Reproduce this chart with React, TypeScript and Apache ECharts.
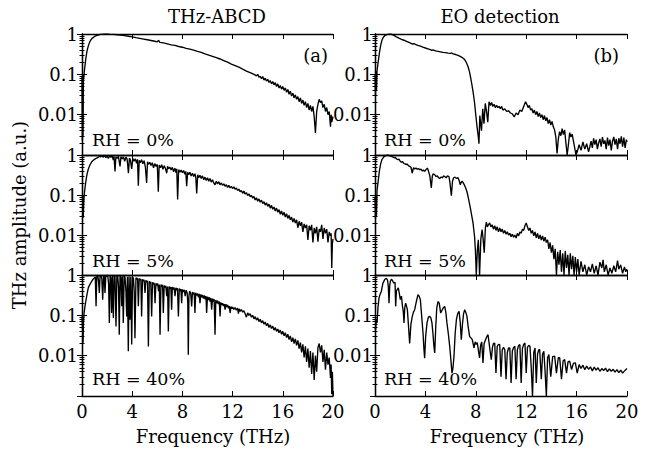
import React, { useEffect, useRef } from 'react';
import * as echarts from 'echarts';

const FONT = '"DejaVu Serif", serif';
const titles = ['THz-ABCD', 'EO detection'];
const panelTags = ['(a)', '(b)'];
const rhLabels = ['RH = 0%', 'RH = 5%', 'RH = 40%'];
const yTickLabels = ['1', '0.1', '0.01'];
const xName = 'Frequency (THz)';
const yName = 'THz amplitude (a.u.)';

// THz-ABCD, RH = 0%
const abcd0 = [
  [0,0.09],[0.03,0.0022],[0.06,0.1],[0.08,0.003],[0.11,0.07],[0.15,0.09],[0.2,0.13],[0.3,0.24],[0.4,0.38],[0.5,0.5],[0.6,0.62],[0.7,0.71],[0.8,0.78],[1.0,0.87],[1.2,0.93],[1.4,0.97],[1.6,0.99],[1.8,1.0],[2.0,1.0],[2.2,0.99],[2.5,0.98],[2.8,0.96],[3.1,0.94],[3.4,0.91],[3.7,0.88],[4.0,0.85],[4.3,0.81],[4.6,0.78],[4.9,0.75],[5.2,0.72],[5.5,0.69],[5.8,0.66],[6.0,0.64],[6.1,0.7],[6.2,0.62],[6.5,0.6],[6.8,0.57],[7.1,0.54],[7.4,0.52],[7.7,0.49],[8.0,0.47],[8.3,0.44],[8.6,0.42],[8.9,0.4],[9.2,0.37],[9.5,0.35],[9.8,0.32],[10.1,0.3],[10.4,0.28],[10.7,0.26],[11.0,0.24],[11.3,0.22],[11.6,0.2],[11.9,0.18],[12.2,0.165],[12.5,0.15],[12.8,0.135],[13.1,0.12],[13.4,0.11],[13.7,0.1],[13.9,0.092],[14.0,0.1],[14.1,0.085],[14.2,0.09],
  [14.3,0.078],[14.4,0.088],[14.5,0.072],[14.6,0.08],[14.7,0.068],[14.8,0.075],[14.9,0.063],[15.0,0.07],[15.1,0.058],[15.2,0.066],[15.3,0.055],[15.4,0.062],[15.5,0.05],[15.6,0.058],[15.7,0.046],[15.8,0.053],[15.9,0.043],[16.0,0.05],[16.1,0.04],[16.2,0.046],[16.3,0.036],[16.4,0.042],[16.5,0.032],[16.6,0.038],[16.7,0.029],[16.8,0.034],[16.9,0.026],[17.0,0.031],[17.1,0.024],[17.2,0.028],[17.3,0.021],[17.4,0.026],[17.5,0.019],[17.6,0.023],[17.7,0.017],[17.8,0.021],[17.9,0.015],[18.0,0.019],[18.1,0.013],[18.2,0.017],[18.3,0.012],[18.4,0.016],[18.5,0.009],[18.6,0.0035],[18.7,0.012],[18.8,0.018],[18.9,0.024],[19.0,0.02],[19.1,0.022],[19.2,0.015],[19.3,0.018],[19.4,0.012],[19.5,0.015],[19.6,0.01],[19.7,0.012],[19.8,0.005],[19.85,0.01],[19.9,0.0065],[20,0.009]
];

// EO detection, RH = 0%
const eo0 = [
  [0,0.1],[0.04,0.03],[0.08,0.12],[0.12,0.04],[0.16,0.12],[0.25,0.2],[0.35,0.34],[0.45,0.52],[0.55,0.7],[0.65,0.82],[0.8,0.93],[1.0,0.98],[1.15,1.0],[1.3,0.99],[1.5,0.92],[1.7,0.85],[1.9,0.79],[2.1,0.74],[2.3,0.7],[2.5,0.66],[2.7,0.62],[2.9,0.58],[3.0,0.56],[3.1,0.58],[3.2,0.55],[3.4,0.52],[3.6,0.5],[3.8,0.47],[4.0,0.45],[4.2,0.43],[4.4,0.41],[4.5,0.39],[4.6,0.405],[4.8,0.38],[5.0,0.37],[5.2,0.36],[5.4,0.35],[5.6,0.345],[5.8,0.335],[6.0,0.33],[6.1,0.34],[6.2,0.32],[6.4,0.31],[6.6,0.295],[6.8,0.275],[7.0,0.25],[7.1,0.235],[7.2,0.21],[7.3,0.18],[7.4,0.15],[7.5,0.115],[7.6,0.08],[7.7,0.053],[7.8,0.034],[7.9,0.02],[8.0,0.0097],[8.1,0.005],[8.2,0.0028],[8.25,0.0019],[8.32,0.0095],[8.45,0.004],[8.55,0.014],[8.65,0.006],[8.75,0.019],[8.85,0.012],[8.95,0.0065],[9.05,0.021],[9.15,0.017],[9.25,0.02],[9.35,0.016],[9.45,0.018],[9.55,0.015],[9.65,0.017],[9.75,0.015],[9.85,0.016],[9.95,0.014],[10.05,0.016],[10.15,0.013],[10.3,0.014],[10.45,0.012],[10.6,0.0125],[10.75,0.011],[10.9,0.0105],[11.05,0.0088],[11.2,0.011],[11.35,0.01],[11.5,0.013],[11.65,0.012],[11.8,0.016],[11.95,0.021],[12.05,0.018],[12.15,0.015],[12.25,0.017],[12.35,0.013],[12.45,0.014],[12.55,0.011],[12.65,0.013],[12.75,0.01],[12.85,0.012],[12.95,0.009],[13.05,0.011],[13.15,0.0085],[13.25,0.01],[13.35,0.0075],[13.45,0.0095],[13.55,0.007],[13.65,0.0085],[13.75,0.006],[13.85,0.0075],[13.95,0.0055],[14.05,0.0068],[14.15,0.005],[14.25,0.0042],[14.35,0.0028],[14.45,0.0011],[14.55,0.0025],[14.65,0.0038],[14.75,0.003],[14.85,0.0045],[14.95,0.0032],[15.05,0.0042],[15.15,0.002],[15.25,0.001],[15.35,0.0018],[15.45,0.0036],[15.55,0.0028],[15.65,0.0033],[15.75,0.0022],[15.85,0.0015],[15.95,0.001],[16.05,0.0012],[16.2,0.0018],[16.35,0.0013],[16.5,0.0021],[16.65,0.0014],[16.8,0.0019],[16.95,0.0012],[17.05,0.0016],[17.15,0.0022],[17.25,0.0015],[17.35,0.0026],[17.45,0.0018],[17.55,0.0024],[17.65,0.0014],[17.75,0.002],[17.85,0.0025],[17.95,0.0016],[18.05,0.0028],[18.15,0.0019],[18.25,0.0023],[18.35,0.0014],[18.45,0.0027],[18.55,0.0017],[18.65,0.0024],[18.75,0.0013],[18.85,0.0022],[18.95,0.0028],[19.05,0.0018],[19.15,0.0025],[19.25,0.0014],[19.35,0.0026],[19.45,0.0019],[19.55,0.0029],[19.65,0.0016],[19.75,0.0027],[19.85,0.0015],[19.95,0.0024],[20,0.0021]
];

// THz-ABCD, RH = 5%
const abcd5 = [
  [0,0.09],[0.05,0.095],[0.1,0.027],[0.15,0.08],[0.2,0.12],[0.27,0.18],[0.35,0.27],[0.42,0.35],[0.5,0.44],[0.64,0.57],[0.8,0.69],[0.9,0.74],[1.05,0.8],[1.17,0.84],[1.3,0.88],[1.43,0.93],
  [1.5,0.9],[1.6,0.96],[1.7,0.88],[1.8,0.97],[1.9,0.86],[2.0,0.95],[2.1,0.82],[2.2,0.96],[2.3,0.88],[2.4,0.94],[2.5,0.75],[2.55,0.93],[2.63,0.39],[2.7,0.9],[2.8,0.82],[2.9,0.92],[3.03,0.52],[3.1,0.9],[3.2,0.8],[3.3,0.9],[3.4,0.7],[3.5,0.88],[3.6,0.78],[3.7,0.35],[3.78,0.84],[3.86,0.75],[3.96,0.45],[4.05,0.82],[4.15,0.7],[4.25,0.8],[4.35,0.62],[4.42,0.78],[4.49,0.17],[4.56,0.74],[4.65,0.64],[4.75,0.76],[4.85,0.6],[4.95,0.72],[5.05,0.5],[5.15,0.2],[5.22,0.68],[5.3,0.58],[5.4,0.66],[5.5,0.55],[5.6,0.64],[5.7,0.48],[5.8,0.61],[5.9,0.52],[6.0,0.58],[6.08,0.12],[6.15,0.56],[6.25,0.48],[6.35,0.57],[6.45,0.44],[6.55,0.54],[6.65,0.46],[6.75,0.35],[6.82,0.52],[6.9,0.45],[7.0,0.5],[7.1,0.42],[7.2,0.49],[7.3,0.38],[7.4,0.47],[7.5,0.36],[7.55,0.45],[7.62,0.077],[7.7,0.43],[7.8,0.37],[7.9,0.42],[8.0,0.36],[8.1,0.41],[8.2,0.33],[8.27,0.39],[8.34,0.165],[8.42,0.37],[8.5,0.32],[8.6,0.37],[8.7,0.3],[8.8,0.35],[8.9,0.29],[9.0,0.34],[9.07,0.27],[9.14,0.11],[9.22,0.32],[9.3,0.27],[9.4,0.31],[9.5,0.26],[9.6,0.3],[9.7,0.24],[9.8,0.28],[9.9,0.23],[10.0,0.27],[10.1,0.22],[10.2,0.26],[10.3,0.21],[10.4,0.24],[10.5,0.2],[10.6,0.18],[10.7,0.22],[10.8,0.19],[10.9,0.215],[11.0,0.18],[11.1,0.2],[11.2,0.175],[11.3,0.19],[11.4,0.165],[11.5,0.18],[11.6,0.155],[11.7,0.175],[11.8,0.15],[11.9,0.165],[12.0,0.145],[12.1,0.16],[12.2,0.14],[12.3,0.15],[12.4,0.13],[12.5,0.14],[12.6,0.12],[12.7,0.13],[12.8,0.11],[12.9,0.125],[13.0,0.105],[13.1,0.115],[13.2,0.097],[13.3,0.107],[13.4,0.09],[13.5,0.099],[13.6,0.083],[13.7,0.092],[13.8,0.075],[13.9,0.085],[14.0,0.07],[14.1,0.08],[14.2,0.066],[14.3,0.074],[14.4,0.061],[14.5,0.068],[14.6,0.056],[14.7,0.064],[14.8,0.052],[14.9,0.059],[15.0,0.047],[15.1,0.055],[15.2,0.044],[15.3,0.05],[15.4,0.04],[15.5,0.047],[15.6,0.037],[15.7,0.043],[15.8,0.033],[15.9,0.04],[16.0,0.031],[16.1,0.037],[16.2,0.028],[16.3,0.034],[16.4,0.026],[16.5,0.031],[16.6,0.024],[16.7,0.028],[16.8,0.021],[16.9,0.026],[17.0,0.02],[17.1,0.024],[17.2,0.015],[17.3,0.022],[17.4,0.017],[17.5,0.021],[17.6,0.012],[17.7,0.019],[17.8,0.015],[17.9,0.018],[18.0,0.0075],[18.1,0.017],[18.2,0.013],[18.3,0.018],[18.4,0.0065],[18.5,0.015],[18.6,0.011],[18.7,0.016],[18.8,0.0068],[18.9,0.014],[19.0,0.012],[19.1,0.018],[19.2,0.008],[19.3,0.015],[19.4,0.011],[19.5,0.014],[19.6,0.0065],[19.7,0.012],[19.8,0.0095],[19.85,0.011],[19.9,0.0015],[19.95,0.006],[20,0.008]
];

// EO detection, RH = 5%
const eo5 = [
  [0,0.09],[0.04,0.025],[0.08,0.1],[0.12,0.03],[0.16,0.13],[0.25,0.22],[0.35,0.4],[0.45,0.6],[0.55,0.77],[0.7,0.9],[0.85,0.97],[1.0,1.0],[1.16,0.97],[1.3,0.92],[1.43,0.89],[1.55,0.84],[1.62,0.87],[1.7,0.8],[1.83,0.76],[1.9,0.79],[2.0,0.7],[2.09,0.66],[2.17,0.69],[2.3,0.61],[2.4,0.6],[2.49,0.57],[2.55,0.6],[2.65,0.54],[2.75,0.52],[2.85,0.5],[2.96,0.35],[3.05,0.48],[3.15,0.45],[3.25,0.47],[3.35,0.44],[3.45,0.46],[3.54,0.43],[3.65,0.44],[3.75,0.4],[3.85,0.42],[3.94,0.39],[4.05,0.43],[4.15,0.47],[4.22,0.42],[4.35,0.3],[4.47,0.15],[4.55,0.3],[4.62,0.34],[4.74,0.32],[4.85,0.29],[4.95,0.3],[5.05,0.27],[5.13,0.26],[5.25,0.28],[5.35,0.27],[5.45,0.3],[5.53,0.29],[5.65,0.27],[5.75,0.3],[5.87,0.29],[5.95,0.2],[6.06,0.096],[6.15,0.22],[6.24,0.27],[6.35,0.28],[6.45,0.26],[6.59,0.27],[6.68,0.23],[6.77,0.18],[6.85,0.21],[6.93,0.22],[7.05,0.19],[7.2,0.15],[7.3,0.12],[7.38,0.093],[7.48,0.065],[7.57,0.047],[7.68,0.03],[7.78,0.02],[7.9,0.0093],[7.97,0.004],[8.04,0.001],[8.12,0.004],[8.2,0.0076],[8.25,0.003],[8.3,0.001],[8.4,0.008],[8.5,0.0137],[8.58,0.008],[8.67,0.0036],[8.76,0.015],[8.84,0.021],[8.92,0.016],[9.0,0.018],[9.1,0.02],[9.2,0.016],[9.3,0.018],[9.4,0.014],[9.5,0.017],[9.6,0.013],[9.7,0.016],[9.8,0.012],[9.9,0.015],[10.0,0.012],[10.1,0.014],[10.2,0.011],[10.3,0.013],[10.4,0.0105],[10.5,0.012],[10.6,0.01],[10.7,0.011],[10.8,0.009],[10.9,0.0105],[11.0,0.0088],[11.1,0.01],[11.2,0.0084],[11.3,0.011],[11.4,0.0095],[11.5,0.012],[11.6,0.011],[11.7,0.014],[11.8,0.013],[11.9,0.017],[12.0,0.02],[12.1,0.016],[12.2,0.013],[12.3,0.015],[12.4,0.011],[12.5,0.013],[12.6,0.0095],[12.7,0.012],[12.8,0.0085],[12.9,0.011],[13.0,0.008],[13.1,0.01],[13.2,0.0075],[13.3,0.0095],[13.4,0.007],[13.5,0.0088],[13.6,0.0065],[13.7,0.0076],[13.8,0.0045],[13.9,0.0065],[14.0,0.0036],[14.1,0.0055],[14.2,0.0025],[14.3,0.0045],[14.4,0.001],[14.5,0.0038],[14.6,0.0018],[14.7,0.0042],[14.8,0.0012],[14.9,0.0035],[15.0,0.001],[15.1,0.004],[15.2,0.0015],[15.3,0.0032],[15.4,0.001],[15.5,0.0035],[15.6,0.0014],[15.7,0.003],[15.8,0.001],[15.9,0.0028],[16.0,0.0012],[16.1,0.0025],[16.2,0.001],[16.35,0.0022],[16.5,0.0012],[16.65,0.0018],[16.8,0.001],[16.95,0.0016],[17.1,0.0012],[17.25,0.0019],[17.4,0.0011],[17.55,0.0017],[17.7,0.001],[17.85,0.0021],[18.0,0.0015],[18.1,0.0024],[18.2,0.0012],[18.35,0.0018],[18.5,0.001],[18.65,0.0015],[18.8,0.0011],[18.95,0.0017],[19.1,0.0012],[19.25,0.0023],[19.35,0.0014],[19.5,0.0018],[19.65,0.0011],[19.8,0.0016],[19.9,0.0012],[20,0.0014]
];

// THz-ABCD, RH = 40%
const abcd40 = [
  [0,0.094],[0.04,0.05],[0.08,0.021],[0.12,0.07],[0.16,0.11],[0.24,0.17],[0.32,0.24],[0.4,0.33],[0.5,0.48],[0.6,0.56],[0.69,0.63],[0.8,0.72],[0.9,0.8],[1.0,0.86],[1.06,0.9],[1.12,0.167],[1.18,0.92],[1.26,0.95],[1.32,0.7],[1.38,0.36],[1.44,0.94],[1.52,0.97],[1.58,0.8],[1.65,0.245],[1.72,0.96],[1.78,0.9],[1.83,0.36],[1.9,0.98],[1.98,0.93],[2.05,0.99],[2.12,0.6],[2.18,0.065],[2.24,0.95],[2.3,0.85],[2.36,0.114],[2.42,0.97],[2.5,0.086],[2.56,0.96],[2.63,0.9],[2.71,0.053],[2.78,0.98],[2.85,0.92],[2.91,0.5],[2.97,0.033],[3.03,0.95],[3.1,0.88],[3.16,0.167],[3.22,0.93],[3.29,0.065],[3.36,0.97],[3.43,0.85],[3.5,0.4],[3.56,0.094],[3.62,0.9],[3.69,0.0128],[3.75,0.92],[3.82,0.078],[3.89,0.9],[3.96,0.019],[4.03,0.88],[4.1,0.82],[4.16,0.4],[4.22,0.027],[4.3,0.86],[4.37,0.78],[4.43,0.84],[4.49,0.167],[4.56,0.82],[4.63,0.74],[4.69,0.8],[4.75,0.094],[4.82,0.78],[4.89,0.7],[4.95,0.76],[5.02,0.36],[5.09,0.74],[5.16,0.66],[5.22,0.72],[5.29,0.017],[5.36,0.7],[5.42,0.62],[5.48,0.68],[5.55,0.094],[5.62,0.66],[5.69,0.58],[5.75,0.64],[5.82,0.2],[5.89,0.62],[5.96,0.55],[6.03,0.61],[6.1,0.4],[6.16,0.58],[6.22,0.033],[6.29,0.58],[6.36,0.5],[6.42,0.57],[6.48,0.114],[6.55,0.55],[6.62,0.48],[6.68,0.54],[6.75,0.3],[6.82,0.52],[6.88,0.04],[6.95,0.52],[7.02,0.46],[7.08,0.5],[7.14,0.138],[7.2,0.5],[7.28,0.44],[7.34,0.49],[7.41,0.3],[7.48,0.48],[7.55,0.42],[7.61,0.47],[7.68,0.094],[7.75,0.46],[7.82,0.4],[7.88,0.45],[7.94,0.2],[8.0,0.44],[8.08,0.38],[8.15,0.43],[8.22,0.3],[8.3,0.42],[8.38,0.36],[8.43,0.2],[8.47,0.0106],[8.52,0.3],[8.58,0.4],[8.66,0.35],[8.74,0.167],[8.8,0.38],[8.88,0.33],[8.94,0.37],[9.0,0.114],[9.06,0.36],[9.14,0.31],[9.2,0.35],[9.28,0.28],[9.34,0.34],[9.4,0.2],[9.47,0.33],[9.54,0.28],[9.6,0.32],[9.68,0.26],[9.75,0.31],[9.82,0.25],[9.88,0.3],[9.93,0.114],[10.0,0.29],[10.07,0.24],[10.14,0.28],[10.2,0.22],[10.27,0.27],[10.33,0.138],[10.4,0.26],[10.47,0.22],[10.53,0.25],[10.6,0.033],[10.66,0.24],[10.73,0.2],[10.8,0.23],[10.87,0.19],[10.94,0.22],[11.0,0.094],[11.06,0.21],[11.13,0.18],[11.2,0.2],[11.27,0.17],[11.34,0.19],[11.4,0.138],[11.47,0.19],[11.54,0.16],[11.6,0.18],[11.67,0.15],[11.74,0.17],[11.8,0.114],[11.87,0.165],[11.94,0.145],[12.0,0.16],[12.1,0.14],[12.2,0.155],[12.3,0.135],[12.4,0.15],[12.46,0.11],[12.52,0.145],[12.6,0.125],[12.7,0.14],[12.8,0.12],[12.9,0.13],[13.0,0.11],[13.1,0.09],[13.2,0.115],[13.3,0.1],[13.4,0.11],[13.5,0.09],[13.6,0.1],[13.7,0.082],[13.8,0.093],[13.9,0.076],[14.0,0.087],[14.1,0.07],[14.2,0.08],[14.3,0.065],[14.4,0.074],[14.5,0.06],[14.6,0.068],[14.7,0.055],[14.8,0.063],[14.9,0.05],[15.0,0.058],[15.1,0.047],[15.2,0.054],[15.3,0.043],[15.4,0.05],[15.5,0.04],[15.6,0.046],[15.7,0.037],[15.8,0.043],[15.9,0.034],[16.0,0.04],[16.1,0.031],[16.2,0.037],[16.3,0.028],[16.4,0.034],[16.5,0.025],[16.6,0.031],[16.7,0.022],[16.8,0.028],[16.9,0.02],[17.0,0.026],[17.1,0.018],[17.2,0.024],[17.3,0.015],[17.4,0.021],[17.5,0.012],[17.6,0.019],[17.7,0.009],[17.8,0.017],[17.9,0.007],[18.0,0.015],[18.1,0.005],[18.2,0.013],[18.3,0.0035],[18.4,0.012],[18.5,0.0025],[18.6,0.01],[18.7,0.004],[18.8,0.016],[18.9,0.02],[19.0,0.012],[19.1,0.018],[19.2,0.007],[19.3,0.014],[19.4,0.0045],[19.5,0.012],[19.6,0.006],[19.7,0.009],[19.8,0.0028],[19.85,0.006],[19.9,0.0011],[19.95,0.004],[20,0.001]
];

// EO detection, RH = 40%
const eo40 = [
  [0,0.05],[0.05,0.044],[0.1,0.078],[0.16,0.065],[0.24,0.16],[0.32,0.27],[0.4,0.33],[0.5,0.39],[0.63,0.63],[0.77,0.77],[0.9,0.83],[1.0,0.74],[1.06,0.5],[1.11,0.2],[1.17,0.55],[1.22,0.7],[1.3,0.78],[1.38,0.74],[1.48,0.63],[1.59,0.66],[1.64,0.167],[1.7,0.4],[1.75,0.43],[1.85,0.48],[1.93,0.35],[2.01,0.245],[2.1,0.3],[2.17,0.18],[2.25,0.12],[2.3,0.065],[2.36,0.15],[2.43,0.2],[2.5,0.17],[2.57,0.138],[2.65,0.06],[2.75,0.02],[2.85,0.06],[2.96,0.094],[3.05,0.12],[3.15,0.138],[3.28,0.22],[3.41,0.325],[3.5,0.3],[3.6,0.245],[3.7,0.1],[3.81,0.037],[3.88,0.015],[3.94,0.0087],[4.02,0.03],[4.13,0.065],[4.24,0.09],[4.34,0.094],[4.44,0.085],[4.52,0.065],[4.6,0.035],[4.67,0.018],[4.74,0.0117],[4.82,0.05],[4.9,0.15],[5.0,0.22],[5.1,0.2],[5.21,0.114],[5.3,0.13],[5.4,0.15],[5.53,0.167],[5.62,0.12],[5.71,0.065],[5.82,0.035],[5.93,0.017],[6.02,0.008],[6.11,0.0037],[6.19,0.005],[6.27,0.0097],[6.36,0.035],[6.46,0.078],[6.56,0.11],[6.67,0.126],[6.76,0.07],[6.85,0.025],[6.94,0.06],[7.03,0.11],[7.12,0.138],[7.2,0.12],[7.3,0.094],[7.4,0.05],[7.51,0.03],[7.6,0.028],[7.72,0.025],[7.86,0.0155],[7.95,0.022],[8.04,0.019],[8.12,0.021],[8.2,0.014],[8.3,0.0088],[8.38,0.018],[8.47,0.022],[8.57,0.0066],[8.66,0.02],[8.78,0.025],[8.88,0.03],[8.97,0.033],[9.06,0.02],[9.15,0.012],[9.23,0.008],[9.32,0.016],[9.4,0.02],[9.5,0.0206],[9.6,0.0037],[9.7,0.017],[9.8,0.019],[9.9,0.0187],[10.0,0.003],[10.1,0.014],[10.2,0.016],[10.3,0.014],[10.4,0.0026],[10.5,0.012],[10.6,0.0155],[10.7,0.0155],[10.8,0.0021],[10.9,0.013],[11.0,0.016],[11.1,0.017],[11.2,0.0026],[11.3,0.014],[11.4,0.018],[11.5,0.0187],[11.6,0.0021],[11.7,0.015],[11.8,0.019],[11.9,0.0206],[12.0,0.0037],[12.1,0.016],[12.2,0.018],[12.3,0.017],[12.4,0.005],[12.5,0.001],[12.6,0.012],[12.7,0.0155],[12.8,0.0021],[12.9,0.011],[13.0,0.014],[13.07,0.014],[13.2,0.0026],[13.3,0.011],[13.4,0.0128],[13.5,0.004],[13.6,0.001],[13.7,0.009],[13.8,0.0106],[13.95,0.003],[14.1,0.0095],[14.26,0.0097],[14.4,0.0037],[14.55,0.009],[14.66,0.0088],[14.8,0.0026],[14.93,0.0075],[15.05,0.008],[15.2,0.0037],[15.32,0.007],[15.45,0.0073],[15.6,0.0045],[15.75,0.0065],[15.9,0.0066],[16.05,0.0037],[16.2,0.006],[16.35,0.0048],[16.5,0.0058],[16.65,0.0045],[16.8,0.0055],[16.95,0.0046],[17.1,0.0053],[17.25,0.0042],[17.4,0.0052],[17.55,0.0044],[17.7,0.005],[17.85,0.0041],[18.0,0.0048],[18.15,0.0043],[18.3,0.0049],[18.45,0.004],[18.6,0.0047],[18.75,0.0041],[18.9,0.0046],[19.05,0.0039],[19.2,0.0045],[19.35,0.0038],[19.5,0.0044],[19.65,0.0037],[19.8,0.0042],[19.9,0.0045],[20,0.0048]
];

export default function App() {
  const ref = useRef<HTMLDivElement>(null);
  useEffect(() => {
    const chart = echarts.init(ref.current!, null, { renderer: 'svg' });
    const cols = [{ left: 82, width: 251, cx: 213 }, { left: 375, width: 252, cx: 507 }];
    const rows = [{ top: 34, height: 121 }, { top: 155, height: 120 }, { top: 275, height: 121 }];
    const dataGrid = [[abcd0, eo0], [abcd5, eo5], [abcd40, eo40]];
    const grid: any[] = [], xAxis: any[] = [], yAxis: any[] = [], series: any[] = [];
    const lineStyle = { color: '#000', width: 1.3 };
    const tick = { inside: true, length: 5, lineStyle: { color: '#000', width: 1 } };
    const minorTick = { show: true, splitNumber: 9, length: 2.5, lineStyle: { color: '#000', width: 1 } };
    const labelStyle = { color: '#000', fontFamily: FONT, fontSize: 18 };
    rows.forEach((r, ri) => cols.forEach((c, ci) => {
      const gi = grid.length;
      grid.push({ left: c.left, top: r.top, width: c.width, height: r.height });
      const base = { gridIndex: gi, type: 'value', min: 0, max: 20, interval: 4, splitLine: { show: false }, axisLine: { show: true, onZero: false, lineStyle }, axisTick: tick };
      xAxis.push({ ...base, position: 'bottom', axisLabel: { show: ri === 2, margin: 6, ...labelStyle } });
      xAxis.push({ ...base, position: 'top', axisLabel: { show: false } });
      const ybase = { gridIndex: gi, type: 'log', logBase: 10, min: 0.001, max: 1, splitLine: { show: false }, minorSplitLine: { show: false }, axisLine: { show: true, lineStyle }, axisTick: tick, minorTick };
      yAxis.push({
        ...ybase, position: 'left',
        axisLabel: {
          ...labelStyle, margin: ci === 0 ? 4 : 2,
          formatter: (v: number) => { const e = -Math.round(Math.log10(v)); return yTickLabels[e] ?? ''; }
        }
      });
      yAxis.push({ ...ybase, position: 'right', axisLabel: { show: false } });
      series.push({
        type: 'line', xAxisIndex: gi * 2, yAxisIndex: gi * 2, data: dataGrid[ri][ci],
        showSymbol: false, symbol: 'none', silent: true, clip: true,
        lineStyle: { color: '#000', width: 1.35 }
      });
    }));
    const txt = (text: string, x: number, y: number, align = 'center', extra: any = {}, size = 18) => ({
      type: 'text', x, y, ...extra,
      style: { text, fill: '#000', fontFamily: FONT, fontSize: size, textAlign: align, textVerticalAlign: 'middle' }
    });
    const graphic: any[] = [];
    titles.forEach((t, i) => graphic.push(txt(t, i === 0 ? 217 : 500, 16)));
    panelTags.forEach((t, i) => graphic.push(txt(t, i === 0 ? 328 : 619, 55, 'right')));
    rhLabels.forEach((t, ri) => {
      const y = [140, 261, 379][ri];
      graphic.push(txt(t, 92, y, 'left', {}, 17.5));
      graphic.push(txt(t, 384, y, 'left', {}, 17.5));
    });
    cols.forEach(c => graphic.push(txt(xName, c.cx, 436)));
    graphic.push(txt(yName, 19, 215, 'center', { rotation: Math.PI / 2 }));
    chart.setOption({ animation: false, backgroundColor: '#fff', grid, xAxis, yAxis, series, graphic });
    return () => chart.dispose();
  }, []);
  return <div ref={ref} style={{ position: 'fixed', left: 0, top: 0, width: 653, height: 450 }} />;
}
